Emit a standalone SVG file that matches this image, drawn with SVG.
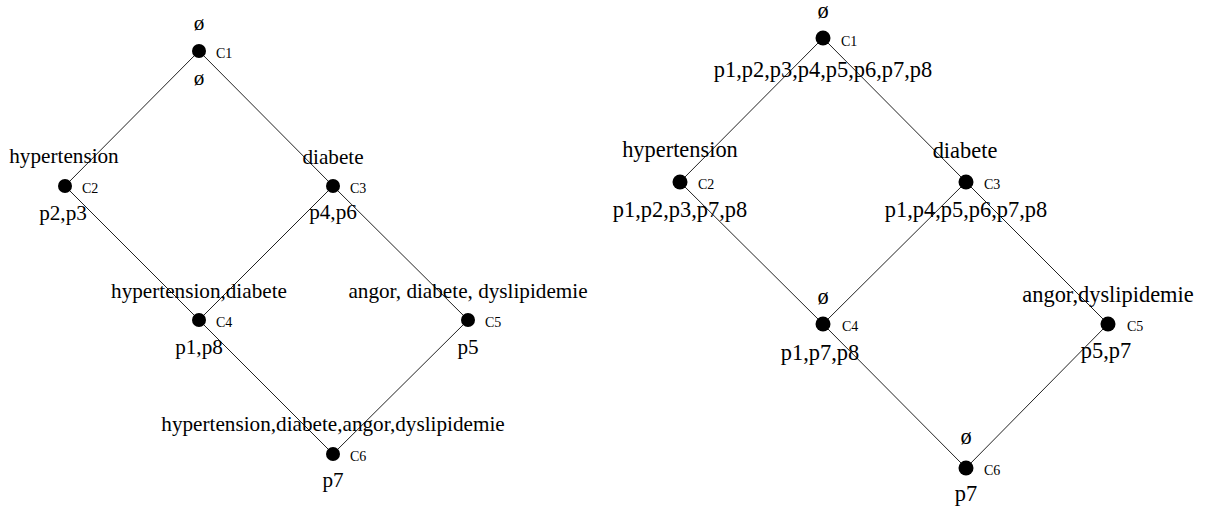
<svg xmlns="http://www.w3.org/2000/svg" width="1207" height="507" viewBox="0 0 1207 507">
<style>
.bg{fill:#fff}
.edge{stroke:#222;stroke-width:1;fill:none}
.dot{fill:#000}
.l{font-family:"Liberation Serif","Times New Roman",serif;font-size:21.2px;text-anchor:middle;fill:#000}
.r{font-family:"Liberation Serif","Times New Roman",serif;font-size:22.4px;text-anchor:middle;fill:#000}
.cid{font-family:"Liberation Serif","Times New Roman",serif;font-size:14px;fill:#000}
</style>
<rect class="bg" x="0" y="0" width="1207" height="507"/>
<g id="connectors">
<line class="edge" x1="199" y1="51" x2="65" y2="186"/>
<line class="edge" x1="199" y1="51" x2="333" y2="186"/>
<line class="edge" x1="65" y1="186" x2="199" y2="320"/>
<line class="edge" x1="333" y1="186" x2="199" y2="320"/>
<line class="edge" x1="333" y1="186" x2="468" y2="320"/>
<line class="edge" x1="199" y1="320" x2="333" y2="454"/>
<line class="edge" x1="468" y1="320" x2="333" y2="454"/>
<line class="edge" x1="823" y1="38" x2="680" y2="182"/>
<line class="edge" x1="823" y1="38" x2="966" y2="182"/>
<line class="edge" x1="680" y1="182" x2="823" y2="324"/>
<line class="edge" x1="966" y1="182" x2="823" y2="324"/>
<line class="edge" x1="966" y1="182" x2="1108" y2="324"/>
<line class="edge" x1="823" y1="324" x2="966" y2="468"/>
<line class="edge" x1="1108" y1="324" x2="966" y2="468"/>
</g>
<g id="L-C1">
<circle class="dot" cx="199" cy="51" r="7"/>
<text class="cid" x="216" y="58">C1</text>
<text class="l" x="199" y="30">ø</text>
<text class="l" x="199" y="85">ø</text>
</g>
<g id="L-C2">
<circle class="dot" cx="65" cy="186" r="7"/>
<text class="cid" x="82" y="193">C2</text>
<text class="l" x="64" y="163">hypertension</text>
<text class="l" x="63" y="220">p2,p3</text>
</g>
<g id="L-C3">
<circle class="dot" cx="333" cy="186" r="7"/>
<text class="cid" x="350" y="193">C3</text>
<text class="l" x="333" y="164">diabete</text>
<text class="l" x="333" y="219">p4,p6</text>
</g>
<g id="L-C4">
<circle class="dot" cx="199" cy="320" r="7"/>
<text class="cid" x="216" y="327">C4</text>
<text class="l" x="199" y="298">hypertension,diabete</text>
<text class="l" x="199" y="354">p1,p8</text>
</g>
<g id="L-C5">
<circle class="dot" cx="468" cy="320" r="7"/>
<text class="cid" x="485" y="327">C5</text>
<text class="l" x="468" y="298">angor, diabete, dyslipidemie</text>
<text class="l" x="468" y="354">p5</text>
</g>
<g id="L-C6">
<circle class="dot" cx="333" cy="454" r="7"/>
<text class="cid" x="350" y="461">C6</text>
<text class="l" x="333" y="431">hypertension,diabete,angor,dyslipidemie</text>
<text class="l" x="333" y="487">p7</text>
</g>
<g id="R-C1">
<circle class="dot" cx="823" cy="38" r="7.5"/>
<text class="cid" x="841" y="46">C1</text>
<text class="r" x="823" y="18">ø</text>
<text class="r" x="823" y="77">p1,p2,p3,p4,p5,p6,p7,p8</text>
</g>
<g id="R-C2">
<circle class="dot" cx="680" cy="182" r="7.5"/>
<text class="cid" x="698" y="189">C2</text>
<text class="r" x="680" y="157">hypertension</text>
<text class="r" x="680" y="217">p1,p2,p3,p7,p8</text>
</g>
<g id="R-C3">
<circle class="dot" cx="966" cy="182" r="7.5"/>
<text class="cid" x="984" y="189">C3</text>
<text class="r" x="965" y="158">diabete</text>
<text class="r" x="966" y="217">p1,p4,p5,p6,p7,p8</text>
</g>
<g id="R-C4">
<circle class="dot" cx="823" cy="324" r="7.5"/>
<text class="cid" x="842" y="331">C4</text>
<text class="r" x="823" y="304">ø</text>
<text class="r" x="820" y="360">p1,p7,p8</text>
</g>
<g id="R-C5">
<circle class="dot" cx="1108" cy="324" r="7.5"/>
<text class="cid" x="1127" y="331">C5</text>
<text class="r" x="1108" y="302">angor,dyslipidemie</text>
<text class="r" x="1106" y="358">p5,p7</text>
</g>
<g id="R-C6">
<circle class="dot" cx="966" cy="468" r="7.5"/>
<text class="cid" x="984" y="475">C6</text>
<text class="r" x="966" y="444">ø</text>
<text class="r" x="966" y="501">p7</text>
</g>
</svg>
